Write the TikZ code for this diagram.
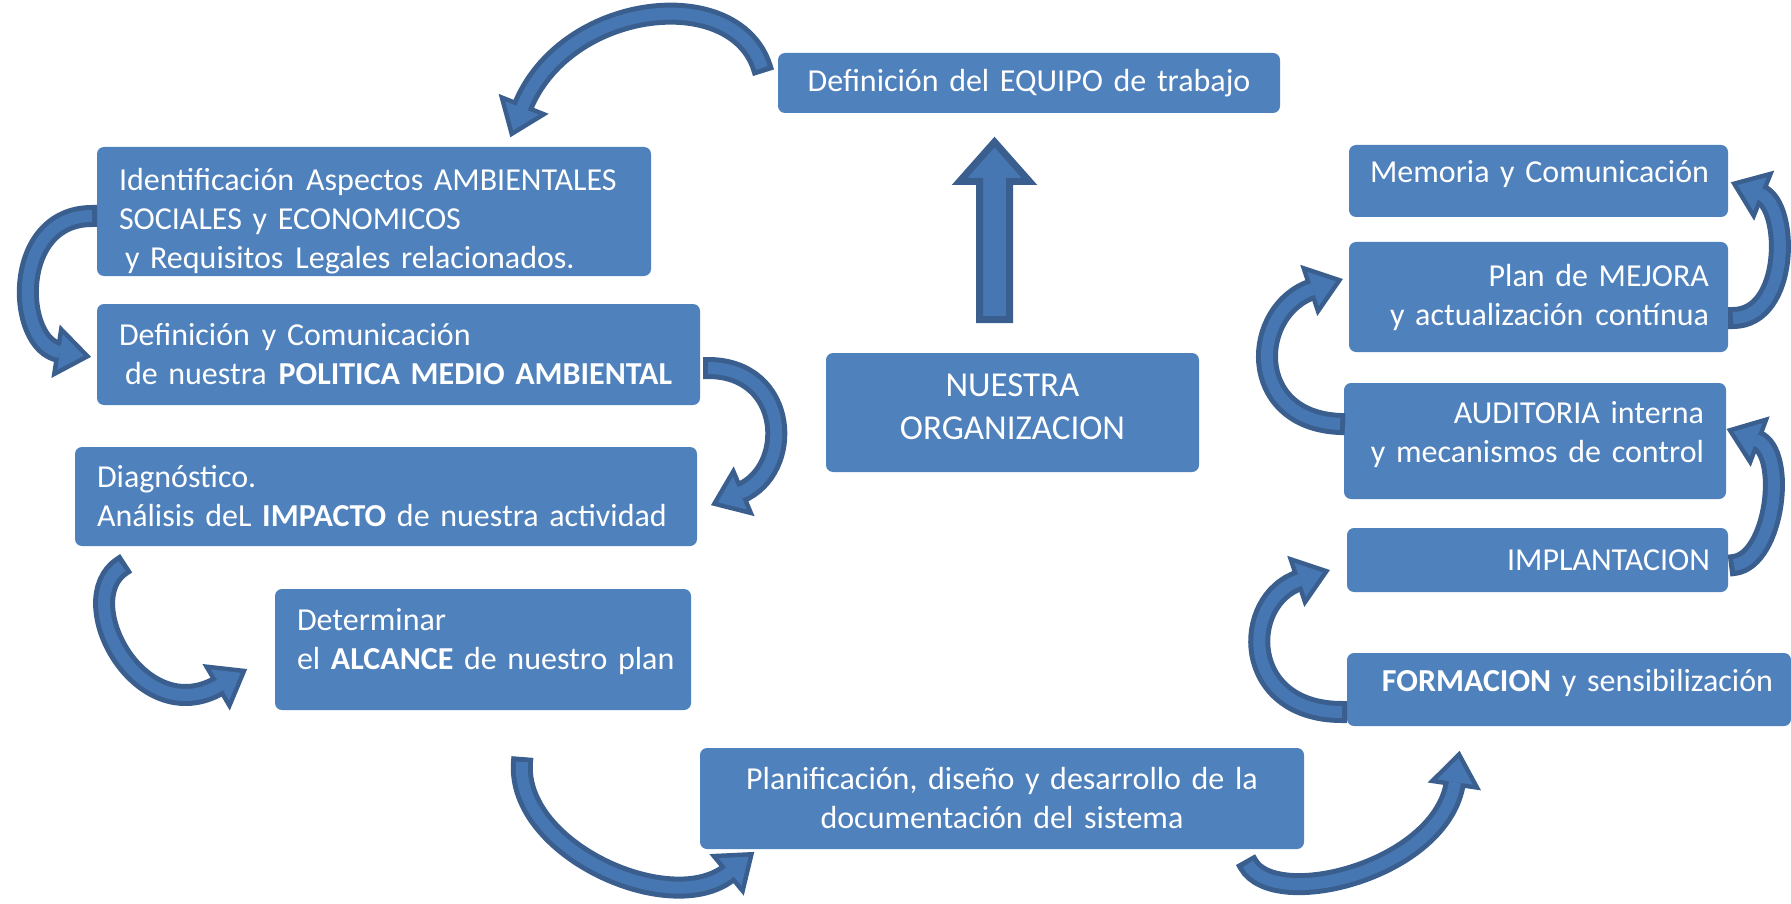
\documentclass[tikz,border=0pt]{standalone}
\usepackage{fontspec}
\setmainfont{Carlito}[WordSpace=0.62]
\usetikzlibrary{calc}
\definecolor{boxblue}{HTML}{4F81BD}
\definecolor{arrdark}{HTML}{3A5F8E}
\definecolor{arrfill}{HTML}{4777B2}
\newcommand{\boxfont}{\fontsize{32}{39}\selectfont}
\newcommand{\bigboxfont}{\fontsize{35}{43}\selectfont}
\newcommand{\dn}[1]{\rule[-#1]{0pt}{#1}}
\newcommand{\curvedarr}[4]{%
  \filldraw[arrdark, line width=9pt] ($(#4)!-24pt!(#3)$) -- ($(#4)!18pt!90:(#3)$) -- ($(#4)!18pt!-90:(#3)$) -- cycle;
  \draw[arrdark, line width=22pt] ($(#1)!-5pt!(#2)$) -- (#1) .. controls (#2) and (#3) .. (#4);
  \fill[arrfill] ($(#4)!-24pt!(#3)$) -- ($(#4)!18pt!90:(#3)$) -- ($(#4)!18pt!-90:(#3)$) -- cycle;
  \draw[arrfill, line width=12pt] (#1) .. controls (#2) and (#3) .. (#4);
}
\tikzset{
  box/.style={rectangle, rounded corners=7pt, fill=boxblue, text=white, font=\boxfont, inner ysep=0pt},
  upblock/.style={fill=arrfill, draw=arrdark, line width=7pt}
}
\begin{document}
\begin{tikzpicture}[x=1pt, y=-1pt]
\useasboundingbox (0,0) rectangle (1791,904);
% boxes
\node[box, align=center, text width=480pt, inner xsep=11pt, minimum width=502pt, minimum height=60pt] (equipo) at (1029,83) {Definición del EQUIPO de trabajo};
\node[box, align=left, text width=510pt, inner xsep=22pt, minimum width=554pt, minimum height=129pt] (ident) at (374,211.5) {\rule{0pt}{42pt}Identificación\hspace{12pt}Aspectos AMBIENTALES\\SOCIALES y ECONOMICOS\\\hspace*{6pt}y Requisitos\hspace{12pt}Legales relacionados.};
\node[box, align=left, text width=559pt, inner xsep=22pt, minimum width=603pt, minimum height=101pt] (politica) at (398.5,354.5) {Definición\hspace{12pt}y Comunicación\\\hspace*{6pt}\mbox{de nuestra\hspace{12pt}\textbf{POLITICA MEDIO AMBIENTAL}}};
\node[box, align=left, text width=578pt, inner xsep=22pt, minimum width=622pt, minimum height=99pt] (diag) at (386,496.5) {Diagnóstico.\\\mbox{Análisis deL \textbf{IMPACTO} de nuestra actividad}};
\node[box, align=left, text width=372pt, inner xsep=22pt, minimum width=416pt, minimum height=121pt] (alcance) at (483,649.5) {Determinar\\\mbox{el \textbf{ALCANCE} de nuestro plan}\dn{21pt}};
\node[box, font=\bigboxfont, align=center, text width=353pt, inner xsep=10pt, minimum width=373pt, minimum height=119pt] (org) at (1012.5,412.5) {NUESTRA\\ORGANIZACION\dn{12pt}};
\node[box, align=center, text width=584pt, inner xsep=10pt, minimum width=604pt, minimum height=101pt] (plan) at (1002,798.5) {Planificación, diseño y desarrollo de la\\documentación del sistema};
\node[box, align=right, text width=341pt, inner xsep=19pt, minimum width=379pt, minimum height=72pt] (memoria) at (1538.5,181) {Memoria y Comunicación\dn{19pt}};
\node[box, align=right, text width=341pt, inner xsep=19pt, minimum width=379pt, minimum height=110pt] (mejora) at (1538.5,297) {Plan de MEJORA\\y actualización\hspace{12pt}contínua};
\node[box, align=right, text width=338pt, inner xsep=22pt, minimum width=382pt, minimum height=116pt] (audit) at (1535,441) {AUDITORIA interna\\y mecanismos de control\dn{19pt}};
\node[box, align=right, text width=345pt, inner xsep=18pt, minimum width=381pt, minimum height=64pt] (implant) at (1537.5,560) {IMPLANTACION};
\node[box, align=right, text width=408pt, inner xsep=18pt, minimum width=444pt, minimum height=73pt] (formacion) at (1569,689.5) {\mbox{\textbf{FORMACION} y sensibilización}\dn{19pt}};
% up block arrow
\coordinate (upbot) at (994.5,319.5);
\coordinate (uptip) at (994.5,142);
\draw[upblock] ($(upbot)+(-15,0)$) -- ($(upbot)+(-15,-138)$) -- ($(upbot)+(-35,-138)$) -- (uptip) -- ($(upbot)+(35,-138)$) -- ($(upbot)+(15,-138)$) -- ($(upbot)+(15,0)$) -- cycle;
% curved arrows
\coordinate (a0) at (762,68);  \coordinate (a1) at (735,-18); \coordinate (a2) at (565,0);   \coordinate (a3) at (522,108);
\coordinate (b0) at (92,216);  \coordinate (b1) at (10,216);  \coordinate (b2) at (15,345);  \coordinate (b3) at (60,352);
\coordinate (c0) at (708,368); \coordinate (c1) at (790,368); \coordinate (c2) at (795,470); \coordinate (c3) at (740,493);
\coordinate (d0) at (122,566); \coordinate (d1) at (70,600);  \coordinate (d2) at (140,732); \coordinate (d3) at (220,685);
\coordinate (e0) at (522,762); \coordinate (e1) at (515,850); \coordinate (e2) at (672,920); \coordinate (e3) at (730,872);
\coordinate (f0) at (1248,864); \coordinate (f1) at (1275,912); \coordinate (f2) at (1442,870); \coordinate (f3) at (1455,782);
\coordinate (g0) at (1342,712); \coordinate (g1) at (1240,712); \coordinate (g2) at (1240,600); \coordinate (g3) at (1300,580);
\coordinate (h0) at (1734,565); \coordinate (h1) at (1775,560); \coordinate (h2) at (1788,452); \coordinate (h3) at (1756,440);
\coordinate (i0) at (1340,424); \coordinate (i1) at (1245,420); \coordinate (i2) at (1250,310); \coordinate (i3) at (1313,289);
\coordinate (j0) at (1733,318); \coordinate (j1) at (1790,318); \coordinate (j2) at (1790,206); \coordinate (j3) at (1760,194);
\curvedarr{a0}{a1}{a2}{a3}
\curvedarr{b0}{b1}{b2}{b3}
\curvedarr{c0}{c1}{c2}{c3}
\curvedarr{d0}{d1}{d2}{d3}
\curvedarr{e0}{e1}{e2}{e3}
\curvedarr{f0}{f1}{f2}{f3}
\curvedarr{g0}{g1}{g2}{g3}
\curvedarr{h0}{h1}{h2}{h3}
\curvedarr{i0}{i1}{i2}{i3}
\curvedarr{j0}{j1}{j2}{j3}
\end{tikzpicture}
\end{document}
